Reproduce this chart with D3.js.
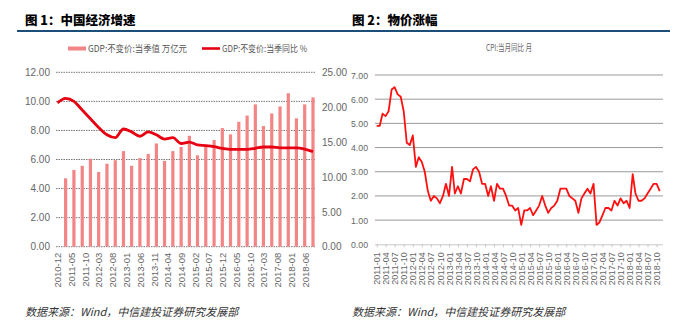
<!DOCTYPE html>
<html>
<head>
<meta charset="utf-8">
<script src="https://cdn.jsdelivr.net/npm/d3@7"></script>
<style>
  body { margin: 0; background: #fff; }
  svg { display: block; }
  text { font-family: "Liberation Sans", "Noto Sans CJK SC", sans-serif; }
</style>
</head>
<body>
<svg id="chart" width="690" height="328"></svg>
<script>
// ---- 图1：中国经济增速 (quarterly) ----
const gdpQuarters = [
  "2010-12",
  "2011-03","2011-06","2011-09","2011-12",
  "2012-03","2012-06","2012-09","2012-12",
  "2013-03","2013-06","2013-09","2013-12",
  "2014-03","2014-06","2014-09","2014-12",
  "2015-03","2015-06","2015-09","2015-12",
  "2016-03","2016-06","2016-09","2016-12",
  "2017-03","2017-06","2017-09","2017-12",
  "2018-03","2018-06","2018-09"
];
// GDP:不变价:当季同比 %  (left axis)
const gdpGrowth = [
  9.9,
  10.2, 10.0, 9.4, 8.8,
  8.2, 7.7, 7.5, 8.1,
  7.9, 7.6, 7.9, 7.7,
  7.4, 7.5, 7.1, 7.2,
  7.0, 6.95, 6.88, 6.77,
  6.7, 6.7, 6.7, 6.77,
  6.86, 6.86, 6.8, 6.8,
  6.8, 6.72, 6.54
];
// GDP:不变价:当季值 万亿元  (right axis), no value for 2010-12
const gdpValue = [
  null,
  9.8, 11.0, 11.6, 12.6,
  10.7, 11.9, 12.4, 13.7,
  11.6, 12.7, 13.3, 14.8,
  12.3, 13.7, 14.3, 15.9,
  13.1, 14.5, 15.3, 17.0,
  16.1, 17.9, 18.8, 20.4,
  17.3, 19.1, 20.1, 22.0,
  18.4, 20.4, 21.4
];
const gdpTickLabels = [
  "2010-12","2011-05","2011-10","2012-03","2012-08","2013-01","2013-06",
  "2013-11","2014-04","2014-09","2015-02","2015-07","2015-12","2016-05",
  "2016-10","2017-03","2017-08","2018-01","2018-06"
];
const gdpLeftTicks = [0, 2, 4, 6, 8, 10, 12];
const gdpRightTicks = [0, 5, 10, 15, 20, 25];

// ---- 图2：物价涨幅 (monthly CPI yoy) ----
const cpiStart = "2011-01";
const cpiValues = [
  4.9, 4.9, 5.4, 5.3, 5.5, 6.4, 6.5, 6.2, 6.1, 5.5, 4.2, 4.1,
  4.5, 3.2, 3.6, 3.4, 3.0, 2.2, 1.8, 2.0, 1.9, 1.7, 2.0, 2.5,
  2.0, 3.2, 2.1, 2.4, 2.1, 2.7, 2.7, 2.6, 3.1, 3.2, 3.0, 2.5,
  2.5, 2.0, 2.4, 1.8, 2.5, 2.3, 2.3, 2.0, 1.6, 1.6, 1.4, 1.5,
  0.8, 1.4, 1.4, 1.5, 1.2, 1.4, 1.6, 2.0, 1.6, 1.3, 1.5, 1.6,
  1.8, 2.3, 2.3, 2.3, 2.0, 1.9, 1.8, 1.3, 1.9, 2.1, 2.3, 2.1,
  2.5, 0.8, 0.9, 1.2, 1.5, 1.5, 1.4, 1.8, 1.6, 1.9, 1.7, 1.8,
  1.5, 2.9, 2.1, 1.8, 1.8, 1.9, 2.1, 2.3, 2.5, 2.5, 2.2
];
const cpiTickLabels = [
  "2011-01","2011-04","2011-07","2011-10","2012-01","2012-04","2012-07","2012-10",
  "2013-01","2013-04","2013-07","2013-10","2014-01","2014-04","2014-07","2014-10",
  "2015-01","2015-04","2015-07","2015-10","2016-01","2016-04","2016-07","2016-10",
  "2017-01","2017-04","2017-07","2017-10","2018-01","2018-04","2018-07","2018-10"
];
const cpiYTicks = [0, 1, 2, 3, 4, 5, 6, 7];

const parseMonth = d3.timeParse("%Y-%m");
const svg = d3.select("#chart");
const numFmt = d3.format(".2f");
const footerText = "数据来源：Wind，中信建投证券研究发展部";

// Section headers with a shared rule underneath
svg.append("text").attr("x", 25).attr("y", 25)
  .attr("font-size", 12.5).attr("font-weight", 900).attr("fill", "#000")
  .style("font-family", "'Noto Sans CJK SC', sans-serif")
  .text("图 1：中国经济增速");
svg.append("text").attr("x", 352).attr("y", 25)
  .attr("font-size", 12.5).attr("font-weight", 900).attr("fill", "#000")
  .style("font-family", "'Noto Sans CJK SC', sans-serif")
  .text("图 2：物价涨幅");
svg.append("line").attr("x1", 17).attr("x2", 670).attr("y1", 31).attr("y2", 31)
  .attr("stroke", "#1b4f7a").attr("stroke-width", 2);

// Footers
[25, 352].forEach(x => {
  svg.append("text").attr("x", x).attr("y", 316)
    .attr("font-size", 11).attr("font-style", "italic").attr("fill", "#333")
    .style("font-family", "'Noto Sans CJK SC', sans-serif")
    .text(footerText);
});

// ================= Chart 1 =================
(function drawGdp() {
  const g = svg.append("g");
  const x = d3.scaleTime()
    .domain([parseMonth(gdpQuarters[0]), parseMonth(gdpQuarters[gdpQuarters.length - 1])])
    .range([57.5, 313]);
  const yL = d3.scaleLinear().domain([0, 12]).range([246.7, 72.3]);
  const yR = d3.scaleLinear().domain([0, 25]).range([246.7, 72.3]);

  // dotted gridlines
  g.append("g").selectAll("line").data(gdpLeftTicks).join("line")
    .attr("x1", 56).attr("x2", 316)
    .attr("y1", d => yL(d)).attr("y2", d => yL(d))
    .attr("stroke", "#777").attr("stroke-width", 1)
    .attr("stroke-dasharray", "1.5,1");

  // bars (right axis)
  const barW = 3.2;
  g.append("g").selectAll("rect")
    .data(gdpQuarters.map((q, i) => ({ d: parseMonth(q), v: gdpValue[i] })).filter(o => o.v != null))
    .join("rect")
    .attr("x", o => x(o.d) - barW / 2)
    .attr("width", barW)
    .attr("y", o => yR(o.v))
    .attr("height", o => yR(0) - yR(o.v))
    .attr("fill", "#f28585");

  // growth line (left axis)
  const line = d3.line()
    .x(q => x(parseMonth(q)))
    .y((q, i) => yL(gdpGrowth[i]))
    .curve(d3.curveMonotoneX);
  g.append("path").datum(gdpQuarters).attr("d", line)
    .attr("fill", "none").attr("stroke", "#e60012").attr("stroke-width", 2.8)
    .attr("stroke-linejoin", "round");

  // left axis
  const axL = g.append("g").attr("transform", "translate(50,0)")
    .call(d3.axisLeft(yL).tickValues(gdpLeftTicks).tickFormat(numFmt).tickSize(0).tickPadding(0));
  axL.select(".domain").remove();
  axL.selectAll("text").attr("font-size", 10).attr("fill", "#666")
    .style("font-family", "'Liberation Sans', sans-serif");

  // right axis
  const axR = g.append("g").attr("transform", "translate(322,0)")
    .call(d3.axisRight(yR).tickValues(gdpRightTicks).tickFormat(numFmt).tickSize(0).tickPadding(0));
  axR.select(".domain").remove();
  axR.selectAll("text").attr("font-size", 10).attr("fill", "#666")
    .style("font-family", "'Liberation Sans', sans-serif");

  // bottom axis, vertical labels
  const axB = g.append("g").attr("transform", "translate(0,246.7)")
    .call(d3.axisBottom(x).tickValues(gdpTickLabels.map(parseMonth))
      .tickFormat(d3.timeFormat("%Y-%m")).tickSize(0));
  axB.select(".domain").remove();
  axB.selectAll("text")
    .attr("font-size", 9.5).attr("fill", "#666")
    .style("font-family", "'Liberation Sans', sans-serif")
    .attr("text-anchor", "end")
    .attr("transform", "rotate(-90)")
    .attr("x", -6).attr("y", 0).attr("dy", "0.35em");

  // legend
  const lg = g.append("g").attr("font-size", 9).attr("fill", "#555");
  lg.append("rect").attr("x", 68).attr("y", 46.5).attr("width", 18).attr("height", 4).attr("fill", "#f28585");
  lg.append("text").attr("x", 88).attr("y", 51.5).attr("fill", "#555")
    .attr("textLength", 99).attr("lengthAdjust", "spacingAndGlyphs")
    .style("font-family", "'Noto Sans CJK SC', sans-serif")
    .text("GDP:不变价:当季值 万亿元");
  lg.append("line").attr("x1", 202).attr("x2", 220).attr("y1", 48.5).attr("y2", 48.5)
    .attr("stroke", "#e60012").attr("stroke-width", 2.6);
  lg.append("text").attr("x", 222).attr("y", 51.5).attr("fill", "#555")
    .attr("textLength", 85).attr("lengthAdjust", "spacingAndGlyphs")
    .style("font-family", "'Noto Sans CJK SC', sans-serif")
    .text("GDP:不变价:当季同比 %");
})();

// ================= Chart 2 =================
(function drawCpi() {
  const g = svg.append("g");
  const start = parseMonth(cpiStart);
  const dates = cpiValues.map((v, i) => d3.timeMonth.offset(start, i));
  const x = d3.scaleTime().domain([dates[0], dates[dates.length - 1]]).range([376.7, 659.7]);
  const y = d3.scaleLinear().domain([0, 7]).range([244.3, 75]);

  // gridlines
  g.append("g").selectAll("line").data(cpiYTicks.filter(d => d > 0)).join("line")
    .attr("x1", 375).attr("x2", 663)
    .attr("y1", d => y(d)).attr("y2", d => y(d))
    .attr("stroke", "#9a9a9a").attr("stroke-width", 1);

  // y labels
  const axY = g.append("g").attr("transform", "translate(368,0)")
    .call(d3.axisLeft(y).tickValues(cpiYTicks).tickFormat(numFmt).tickSize(0).tickPadding(0));
  axY.select(".domain").remove();
  axY.selectAll("text").attr("font-size", 9.5).attr("fill", "#666")
    .attr("textLength", 17).attr("lengthAdjust", "spacingAndGlyphs")
    .style("font-family", "'Liberation Sans', sans-serif");

  // x axis with ticks
  const axX = g.append("g").attr("transform", `translate(0,${y(0)})`)
    .call(d3.axisBottom(x).tickValues(cpiTickLabels.map(parseMonth))
      .tickFormat(d3.timeFormat("%Y-%m")).tickSize(3).tickSizeOuter(0));
  axX.select(".domain").attr("stroke", "#c8c8c8").attr("d", `M375,0.5H663`);
  axX.selectAll(".tick line").attr("stroke", "#c8c8c8");
  axX.selectAll("text")
    .attr("font-size", 9).attr("fill", "#666")
    .style("font-family", "'Liberation Sans', sans-serif")
    .attr("text-anchor", "end")
    .attr("transform", "rotate(-90)")
    .attr("x", -8).attr("y", 0).attr("dy", "0.35em");

  // CPI line
  const line = d3.line().x((d, i) => x(dates[i])).y(d => y(d));
  g.append("path").datum(cpiValues).attr("d", line)
    .attr("fill", "none").attr("stroke", "#ff1010").attr("stroke-width", 1.8)
    .attr("stroke-linejoin", "round");

  // series caption
  g.append("text").attr("x", 486).attr("y", 51).attr("font-size", 9).attr("fill", "#666")
    .attr("textLength", 46).attr("lengthAdjust", "spacingAndGlyphs")
    .style("font-family", "'Noto Sans CJK SC', sans-serif")
    .text("CPI:当月同比 月");
})();
</script>
</body>
</html>
